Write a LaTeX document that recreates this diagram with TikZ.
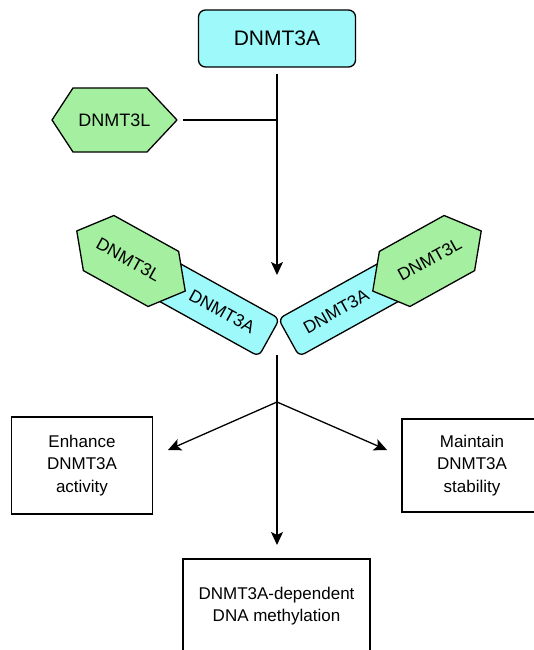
\documentclass[tikz,border=0pt]{standalone}
\usepackage{fontspec}
\setmainfont{Liberation Sans}
\usetikzlibrary{arrows.meta,calc}
\definecolor{cyanfill}{RGB}{158,250,250}
\definecolor{greenfill}{RGB}{165,240,160}
\begin{document}
\begin{tikzpicture}[x=1pt,y=-1pt,
  line/.style={line width=1.3pt, black},
  arr/.style={line, -{Stealth[length=13pt,width=12pt,inset=3pt]}},
  cyanbox/.style={draw, line width=1.3pt, fill=cyanfill, rounded corners=7pt},
  hexfill/.style={draw, line width=1.3pt, fill=greenfill, line join=round},
  outbox/.style={draw, line width=1.3pt, fill=white, align=center, font=\fontsize{17}{22.5}\selectfont},
  lbl/.style={inner sep=0pt, font=\fontsize{17.5}{20}\selectfont}
]
\useasboundingbox (0,0) rectangle (533,650);

% top DNMT3A
\node[cyanbox, minimum width=157pt, minimum height=57pt, font=\fontsize{21}{25}\selectfont] (A) at (277,38.5) {DNMT3A};

% top DNMT3L hexagon
\filldraw[hexfill] (52,120) -- (73,88) -- (147,88) -- (177,120) -- (147,152) -- (73,152) -- cycle;
\node[inner sep=0pt, font=\fontsize{18}{20}\selectfont, minimum width=125pt, minimum height=64pt] (L1) at (114.5,120) {DNMT3L};

\coordinate (j1) at (277,120);
\coordinate (t1) at (277,275);
\draw[line] ([xshift=6pt]L1.east) -- (j1);
\draw[arr] ([yshift=-6pt]A.south) -- (t1);

% left complex
\begin{scope}[shift={(131,261)}, rotate=-29, transform shape]
  \node[cyanbox, rounded corners=6pt, minimum width=148pt, minimum height=43pt] (A2) at (84,0) {};
  \filldraw[hexfill] (-62,0) -- (-37,-31.5) -- (37,-31.5) -- (62,0) -- (37,31.5) -- (-37,31.5) -- cycle;
  \node[lbl] (L2) at (-3,0) {DNMT3L};
  \node[lbl] (A2t) at (104,0) {DNMT3A};
\end{scope}

% right complex
\begin{scope}[shift={(427,261)}, rotate=29, transform shape]
  \node[cyanbox, rounded corners=6pt, minimum width=148pt, minimum height=43pt] (A3) at (-84,0) {};
  \filldraw[hexfill] (-62,0) -- (-37,-31.5) -- (37,-31.5) -- (62,0) -- (37,31.5) -- (-37,31.5) -- cycle;
  \node[lbl] (L3) at (3,0) {DNMT3L};
  \node[lbl] (A3t) at (-104,0) {DNMT3A};
\end{scope}

% outcome boxes
\node[outbox, minimum width=141.5pt, minimum height=97pt] (E) at (82,465.5) {Enhance\\DNMT3A\\activity};
\node[outbox, minimum width=140pt, minimum height=93pt] (M) at (472,465.5) {Maintain\\DNMT3A\\stability};
\node[draw, line width=1.3pt, minimum width=187pt, minimum height=120pt] (D) at (276.5,619) {};
\node[align=center, inner sep=0pt, font=\fontsize{17}{22.5}\selectfont] (Dt) at (276.5,606) {DNMT3A-dependent\\DNA methylation};

% branching connectors
\coordinate (s0) at (277,355);
\coordinate (br) at (277,402);
\coordinate (tl) at (168,450);
\coordinate (tr) at (387,450);
\coordinate (tb) at (277,545);
\draw[line] (s0) -- (br);
\draw[arr] (br) -- (tl);
\draw[arr] (br) -- (tr);
\draw[arr] (br) -- (tb);
\end{tikzpicture}
\end{document}
